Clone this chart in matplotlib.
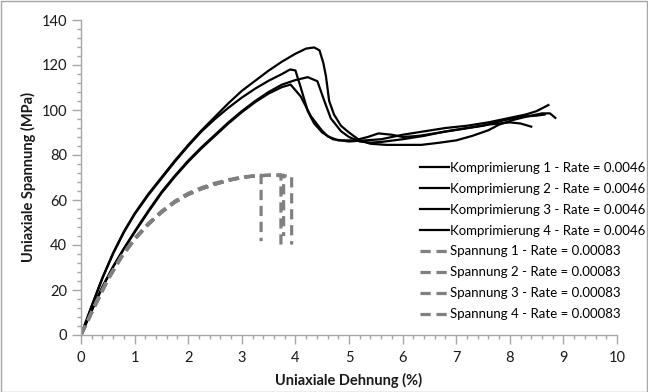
import matplotlib
matplotlib.use("Agg")
import matplotlib.pyplot as plt
from matplotlib.patches import Rectangle
from matplotlib.ticker import MultipleLocator

plt.rcParams['font.family'] = ['Lato', 'DejaVu Sans']

# Komprimierung (compression) curves, rate 0.0046
k1_x = [0, 0.2, 0.4, 0.6, 0.8, 1.0, 1.25, 1.5, 1.75, 2.0, 2.25, 2.5, 2.75, 3.0, 3.25, 3.5, 3.75, 4.0, 4.2, 4.35,
        4.45, 4.52, 4.57, 4.63, 4.72, 4.85, 5.0, 5.2, 5.4, 5.7, 6.0, 6.35, 6.7, 7.0, 7.3, 7.6, 7.8, 8.05, 8.3, 8.6, 8.75, 8.85]
k1_y = [0, 13, 25.5, 36.5, 46, 54, 62.5, 70, 77.5, 84.5, 91, 97, 103, 108.5, 113, 117.5, 121.5, 125, 127.3, 127.8,
        126.5, 121, 115, 104, 98, 93, 90, 86.5, 85, 84.5, 84.5, 84.5, 85.5, 86.5, 88.5, 91, 93.5, 95.5, 97, 98.5, 98.5, 96.5]

k2_x = [0, 0.2, 0.4, 0.6, 0.8, 1.0, 1.25, 1.5, 1.75, 2.0, 2.25, 2.5, 2.75, 3.0, 3.25, 3.5, 3.75, 3.9, 4.0,
        4.1, 4.23, 4.35, 4.5, 4.7, 5.0, 5.3, 5.6, 6.0, 6.4, 6.8, 7.2, 7.6, 8.0, 8.3, 8.5, 8.72]
k2_y = [0, 12.8, 25.2, 36.2, 45.6, 53.6, 62, 69.5, 77, 84, 90.5, 96, 101, 105.5, 109.5, 113, 116, 118, 117.6,
        110, 99.5, 94, 90, 87, 86, 86.5, 87, 89, 90.5, 92, 93, 94.5, 96.5, 98, 99.5, 102.2]

k3_x = [0, 0.2, 0.4, 0.6, 0.8, 1.0, 1.25, 1.5, 1.75, 2.0, 2.25, 2.5, 2.75, 3.0, 3.25, 3.5, 3.75, 4.0, 4.23,
        4.41, 4.54, 4.66, 4.85, 5.0, 5.2, 5.4, 5.6, 6.0, 6.4, 6.8, 7.2, 7.6, 8.0, 8.2, 8.4]
k3_y = [0, 11, 21.5, 30.5, 38.5, 46, 55, 63.5, 70.8, 77.5, 83.5, 89, 94.5, 99.5, 104, 108, 111.3, 113.3, 114.6,
        112.8, 104, 96.3, 90.6, 88, 86, 85.5, 85.8, 87, 88.5, 90.5, 92, 93.5, 94.5, 94, 92.6]

k4_x = [0, 0.2, 0.4, 0.6, 0.8, 1.0, 1.25, 1.5, 1.75, 2.0, 2.25, 2.5, 2.75, 3.0, 3.25, 3.5, 3.75, 3.91,
        4.1, 4.29, 4.48, 4.6, 4.8, 5.1, 5.35, 5.55, 5.8, 6.0, 6.3, 6.7, 7.1, 7.5, 7.9, 8.2, 8.5, 8.65]
k4_y = [0, 10.8, 21.2, 30.2, 38.2, 45.6, 54.5, 63, 70.3, 77, 83, 88.5, 94, 99, 103.5, 107.3, 110.2, 111.3,
        106, 97.2, 91.3, 88.3, 86.5, 86.5, 88, 89.6, 89, 88, 88.5, 90, 91.5, 93, 95.5, 97, 97.5, 98]

# Spannung (tension) curves, rate 0.00083
s1_x = [0, 0.25, 0.5, 0.75, 1.0, 1.25, 1.5, 1.75, 2.0, 2.25, 2.5, 2.75, 3.0, 3.25, 3.36, 3.36]
s1_y = [0, 13, 25, 35, 43, 49.5, 55, 59.5, 63, 65.5, 67.5, 69, 70.2, 70.8, 71, 41.7]
s2_x = [0, 0.25, 0.5, 0.75, 1.0, 1.25, 1.5, 1.75, 2.0, 2.25, 2.5, 2.75, 3.0, 3.25, 3.5, 3.73, 3.73]
s2_y = [0, 12.5, 24.5, 34.5, 42.5, 49, 54.5, 59, 62.5, 65, 67, 68.7, 70, 70.7, 71, 71.2, 40.2]
s3_x = [0, 0.25, 0.5, 0.75, 1.0, 1.25, 1.5, 1.75, 2.0, 2.25, 2.5, 2.75, 3.0, 3.25, 3.5, 3.78, 3.78]
s3_y = [0, 12.5, 24.5, 34.5, 42.5, 49, 54.5, 59, 62.5, 65, 67, 68.7, 70, 70.7, 71, 71, 44]
s4_x = [0, 0.25, 0.5, 0.75, 1.0, 1.25, 1.5, 1.75, 2.0, 2.25, 2.5, 2.75, 3.0, 3.25, 3.5, 3.75, 3.93, 3.93]
s4_y = [0, 12.5, 24.5, 34.5, 42.5, 49, 54.5, 59, 62.5, 65, 67, 68.7, 70, 70.7, 71, 70.8, 70.5, 40.2]

komp_labels = ["Komprimierung %d - Rate = 0.0046" % i for i in range(1, 5)]
span_labels = ["Spannung %d - Rate = 0.00083" % i for i in range(1, 5)]

fig = plt.figure(figsize=(6.48, 3.92), dpi=100)
ax = fig.add_axes([81 / 648, 57 / 392, 536 / 648, 315 / 392])

for (x, y), lab in zip([(k1_x, k1_y), (k2_x, k2_y), (k3_x, k3_y), (k4_x, k4_y)], komp_labels):
    ax.plot(x, y, color='black', lw=1.6, label=lab, solid_joinstyle='round')

for (x, y), lab in zip([(s1_x, s1_y), (s2_x, s2_y), (s3_x, s3_y), (s4_x, s4_y)], span_labels):
    ax.plot(x, y, color='#808080', lw=2.3, ls=(0, (3.2, 1.8)), label=lab)

ax.set_xlim(0, 10)
ax.set_ylim(0, 140)
ax.xaxis.set_major_locator(MultipleLocator(1))
ax.xaxis.set_minor_locator(MultipleLocator(0.2))
ax.yaxis.set_major_locator(MultipleLocator(20))
ax.yaxis.set_minor_locator(MultipleLocator(4))

for s in ['top', 'right']:
    ax.spines[s].set_visible(False)
for s in ['left', 'bottom']:
    ax.spines[s].set_color('#a6a6a6')
    ax.spines[s].set_linewidth(1)

ax.tick_params(which='major', direction='out', length=6.5, color='#a6a6a6', width=1,
               labelsize=10.5, labelcolor='#1a1a1a')
ax.tick_params(axis='x', which='major', pad=5)
ax.tick_params(which='minor', direction='out', length=3, color='#a6a6a6', width=1)

ax.set_xlabel('Uniaxiale Dehnung (%)', fontsize=10.5, fontweight='bold', color='#1a1a1a', labelpad=6)
ax.set_ylabel('Uniaxiale Spannung (MPa)', fontsize=10.5, fontweight='bold', color='#1a1a1a', labelpad=4)

leg = ax.legend(loc='center left', bbox_to_anchor=(420 / 648, 1 - 241 / 392),
                bbox_transform=fig.transFigure, frameon=False, fontsize=9.5,
                handlelength=2.2, handletextpad=0.1, labelspacing=0.68, borderpad=0,
                borderaxespad=0)

fig.patches.append(Rectangle((0.001, 0.001), 0.997, 0.996, transform=fig.transFigure,
                             fill=False, edgecolor='#a6a6a6', lw=1))

fig.savefig('out.png', dpi=100)
